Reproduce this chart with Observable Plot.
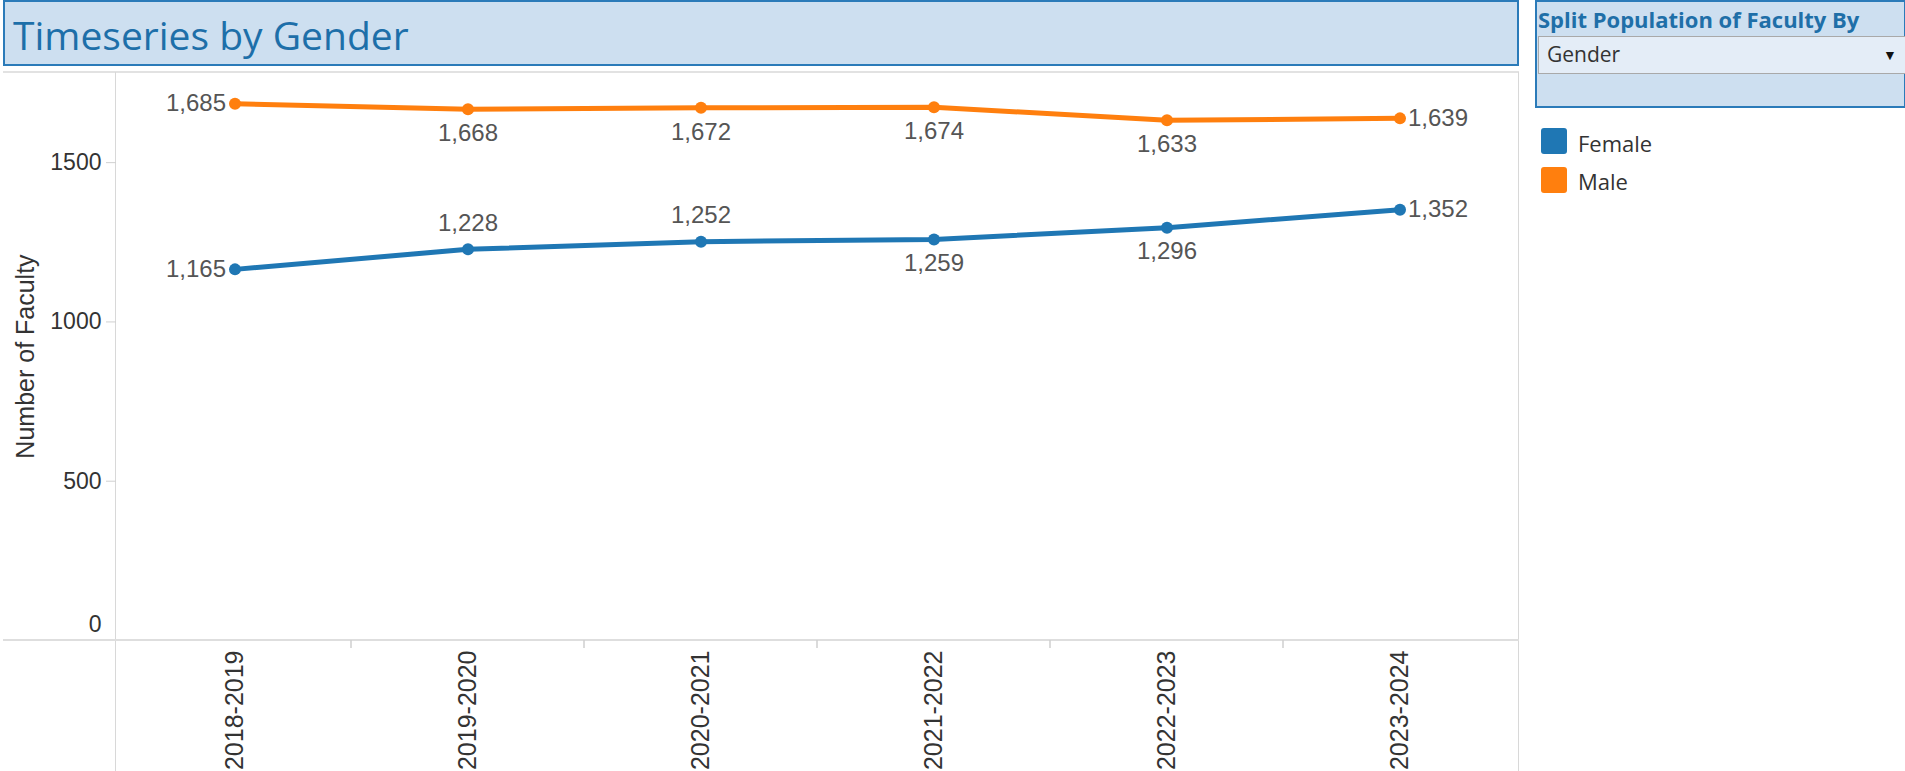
<!DOCTYPE html>
<html><head><meta charset="utf-8">
<script src="https://cdn.jsdelivr.net/npm/d3@7"></script>
<script src="https://cdn.jsdelivr.net/npm/@observablehq/plot@0.6"></script>
<style>
body{margin:0;width:1905px;height:771px;overflow:hidden;background:#fff;position:relative;font-family:"Open Sans",sans-serif}
.abs{position:absolute;white-space:nowrap}
#chart{position:absolute;left:0;top:72px}
#chart svg{overflow:visible}
</style></head><body>
<div class="abs" style="left:3px;top:0;width:1516px;height:66px;box-sizing:border-box;background:#cddff0;border:2px solid #2b7bb9"></div>
<div class="abs" id="title" style="left:13px;top:15px;font-size:39px;line-height:39px;color:#1d6fa9"></div>

<div class="abs" style="left:1535px;top:0;width:371px;height:108px;box-sizing:border-box;background:#cddff0;border:2px solid #2b7bb9"></div>
<div class="abs" id="paramTitle" style="left:1538px;top:8px;font-size:22px;line-height:22px;font-weight:bold;color:#1f6fa8"></div>
<div class="abs" style="left:1538px;top:36px;width:370px;height:38px;box-sizing:border-box;background:#e4edf7;border:1px solid #a9a9a9"></div>
<div class="abs" id="paramValue" style="left:1547px;top:44px;font-size:21px;line-height:21px;color:#333"></div>
<div class="abs" style="left:1883px;top:48px;font-size:14px;line-height:14px;color:#111">▼</div>

<div id="legend"></div>

<div class="abs" style="left:3px;top:71px;width:1516px;height:2px;background:#e2e2e2"></div>
<div class="abs" style="left:115px;top:72px;width:1px;height:699px;background:#d8d8d8"></div>
<div class="abs" style="left:1518px;top:72px;width:1px;height:699px;background:#d8d8d8"></div>
<div class="abs" style="left:3px;top:639px;width:1516px;height:2px;background:#dedede"></div>

<div id="chart"></div>
<script>
// ---- data ----
const years = ["2018-2019", "2019-2020", "2020-2021", "2021-2022", "2022-2023", "2023-2024"];
const genders = ["Female", "Male"];
const femaleCounts = [1165, 1228, 1252, 1259, 1296, 1352];
const maleCounts = [1685, 1668, 1672, 1674, 1633, 1639];
const yTicks = [500, 1000, 1500];
const colors = ["#1f77b4", "#ff7f0e"];
const titleText = "Timeseries by Gender";
const paramTitleText = "Split Population of Faculty By";
const paramValueText = "Gender";
const yAxisLabel = "Number of Faculty";
// where each value label sits relative to its point
const femaleLabelSide = ["left", "above", "above", "below", "below", "right"];
const maleLabelSide = ["left", "below", "below", "below", "below", "right"];

document.getElementById("title").textContent = titleText;
document.getElementById("paramTitle").textContent = paramTitleText;
document.getElementById("paramValue").textContent = paramValueText;

// legend
const legend = document.getElementById("legend");
genders.forEach((g, i) => {
  const sw = document.createElement("div");
  sw.className = "abs";
  sw.style.cssText = `left:1541px;top:${128 + i * 39}px;width:26px;height:26px;border-radius:3px;background:${colors[i]}`;
  legend.appendChild(sw);
  const t = document.createElement("div");
  t.className = "abs";
  t.style.cssText = `left:1578px;top:${132 + i * 38}px;font-size:22px;line-height:22px;color:#333`;
  t.textContent = g;
  legend.appendChild(t);
});

const rows = [];
years.forEach((y, i) => {
  rows.push({year: y, gender: "Female", value: femaleCounts[i], side: femaleLabelSide[i]});
  rows.push({year: y, gender: "Male", value: maleCounts[i], side: maleLabelSide[i]});
});
const fmt = d3.format(",");
const side = s => rows.filter(d => d.side === s);
const labelFont = {fontSize: 24, fill: "#555", fontFamily: "Liberation Sans, Arial, sans-serif"};

function dividers(index, scales, values, dim) {
  const g = d3.create("svg:g");
  const y0 = dim.height - dim.marginBottom;
  years.slice(1).forEach(yr => {
    const x = scales.x(yr);
    g.append("line").attr("x1", x).attr("x2", x).attr("y1", y0).attr("y2", y0 + 8)
      .attr("stroke", "#cfcfcf").attr("stroke-width", 1.5);
  });
  return g.node();
}

const plot = Plot.plot({
  width: 1519,
  height: 699,
  marginLeft: 116,
  marginRight: 1,
  marginTop: 0,
  marginBottom: 131,
  style: {fontFamily: "Liberation Sans, Arial, sans-serif", color: "#333", background: "transparent"},
  x: {type: "band", domain: years, padding: 0, label: null},
  y: {domain: [0, 1783], label: null},
  color: {domain: genders, range: colors},
  marks: [
    dividers,
    Plot.axisY({ticks: yTicks, tickSize: 10, tickPadding: 5, fontSize: 23, stroke: "#d0d0d0", fill: "#333",
      label: null, tickFormat: d3.format("d")}),
    Plot.axisY({ticks: [0], tickSize: 0, tickPadding: 15, fontSize: 23, fill: "#333", dy: -16, label: null, tickFormat: d3.format("d")}),
    Plot.text([yAxisLabel], {frameAnchor: "left", rotate: -90, dx: -91, fontSize: 25, fill: "#333",
      textAnchor: "middle", lineAnchor: "middle"}),
    Plot.axisX({tickSize: 0, tickPadding: 10, tickRotate: -90, fontSize: 25, fill: "#333", label: null}),
    Plot.lineY(rows, {x: "year", y: "value", stroke: "gender", z: "gender", strokeWidth: 5}),
    Plot.dot(rows, {x: "year", y: "value", fill: "gender", r: 6}),
    Plot.text(side("left"), {x: "year", y: "value", text: d => fmt(d.value), textAnchor: "end", dx: -9, ...labelFont}),
    Plot.text(side("right"), {x: "year", y: "value", text: d => fmt(d.value), textAnchor: "start", dx: 8, ...labelFont}),
    Plot.text(side("above"), {x: "year", y: "value", text: d => fmt(d.value), dy: -26, ...labelFont}),
    Plot.text(side("below"), {x: "year", y: "value", text: d => fmt(d.value), dy: 24, ...labelFont})
  ]
});
document.getElementById("chart").appendChild(plot);
</script>
</body></html>
